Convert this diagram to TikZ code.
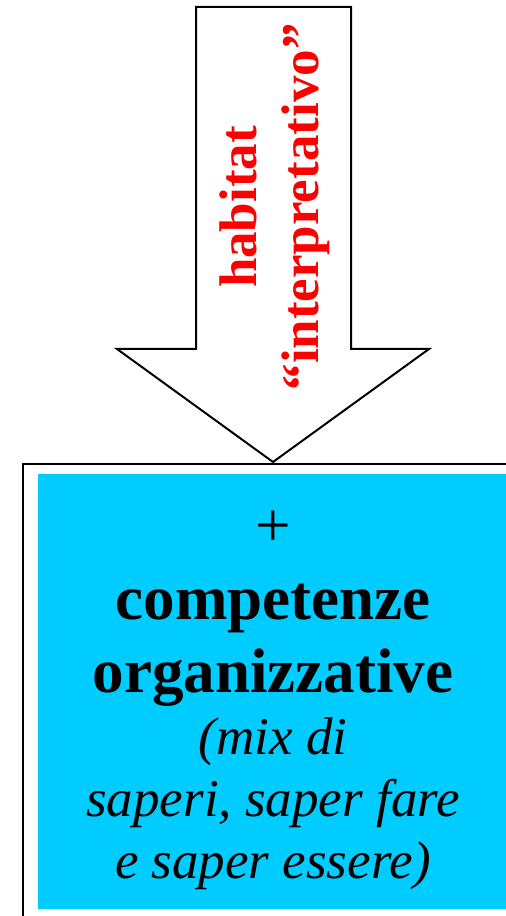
\documentclass[tikz,border=0pt]{standalone}
\usepackage{fontspec}
\setmainfont{Liberation Serif}
\definecolor{boxcyan}{RGB}{0,204,255}
\begin{document}
\begin{tikzpicture}[x=1pt,y=1pt,
  outline/.style={draw=black, line width=2pt, line join=miter},
  bigarrow/.style={outline, fill=white},
  arrowtext/.style={rotate=90, anchor=base, inner sep=0pt, text=red,
    font=\fontsize{53}{62}\selectfont\bfseries},
  boxtext/.style={anchor=base, inner sep=0pt, text=black,
    font=\fontsize{63}{73}\selectfont}]
\useasboundingbox (0,0) rectangle (506,916);
\clip (0,0) rectangle (506,916);
% outer frame (runs off the right and bottom edges)
\node[outline, fill=white, anchor=north west, inner sep=0pt,
  minimum width=530pt, minimum height=480pt] (outer) at (21.5,453) {};
% cyan panel
\node[fill=boxcyan, anchor=north west, inner sep=0pt,
  minimum width=500pt, minimum height=435pt] (panel) at (38,442) {};
% big block arrow
\coordinate (tip) at (273,454);
\draw[bigarrow] (196,909) -- (351,909) -- (351,567) -- (429,567) -- (tip)
  -- (117,567) -- (196,567) -- cycle;
\node[arrowtext] (habitat) at (256,709)
  {\vtop{\hsize=420pt\parindent=0pt\centering habitat\\“interpretativo”\par}};
\node[boxtext] (comp) at (273,369)
  {\vtop{\hsize=470pt\parindent=0pt\centering +\\\textbf{competenze}\\\textbf{organizzative}\\
  \fontsize{53}{62}\selectfont\itshape (mix di\\saperi, saper fare\\e saper essere)\par}};
\end{tikzpicture}
\end{document}
